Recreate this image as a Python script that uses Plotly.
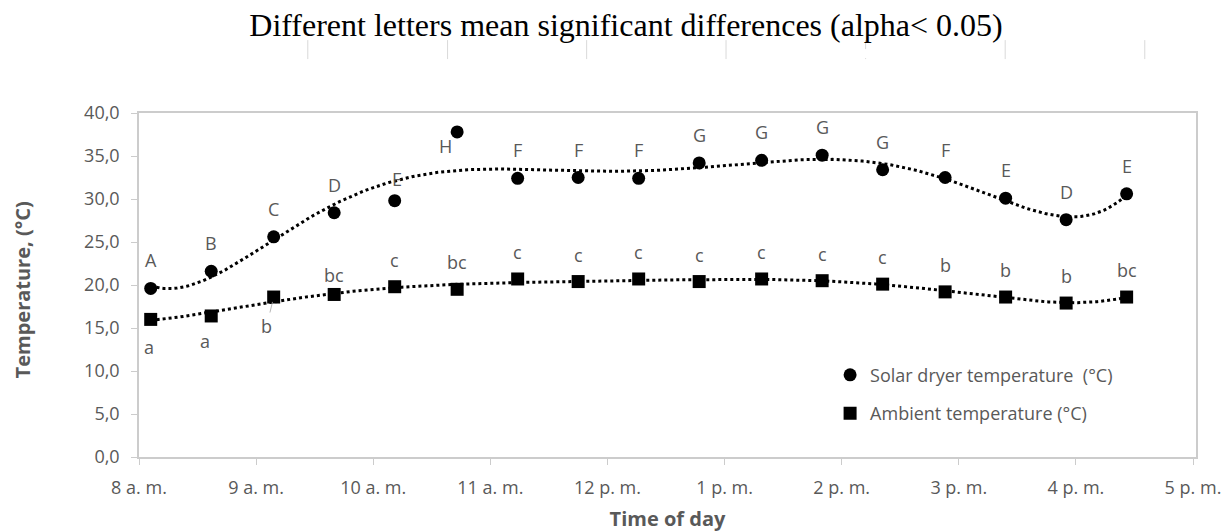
import numpy as np
import plotly.graph_objects as go

# ---------------- data ----------------
times = ["08:06", "08:37", "09:09", "09:40", "10:11", "10:43", "11:14", "11:45", "12:16",
         "12:47", "13:19", "13:50", "14:21", "14:53", "15:24", "15:55", "16:26"]
solar_temp = [19.6, 21.6, 25.6, 28.4, 29.8, 37.8, 32.4, 32.5, 32.4,
              34.2, 34.5, 35.1, 33.4, 32.5, 30.1, 27.6, 30.6]
ambient_temp = [16.0, 16.4, 18.6, 18.9, 19.8, 19.5, 20.7, 20.4, 20.7,
                20.4, 20.7, 20.5, 20.1, 19.2, 18.6, 17.9, 18.6]
solar_letters = ["A", "B", "C", "D", "E", "H", "F", "F", "F", "G", "G", "G", "G", "F", "E", "D", "E"]
ambient_letters = ["a", "a", "b", "bc", "c", "bc", "c", "c", "c", "c", "c", "c", "c", "b", "b", "b", "bc"]
x_tick_hours = [8, 9, 10, 11, 12, 13, 14, 15, 16, 17]
x_tick_labels = ["8 a. m.", "9 a. m.", "10 a. m.", "11 a. m.", "12 p. m.",
                 "1 p. m.", "2 p. m.", "3 p. m.", "4 p. m.", "5 p. m."]
y_tick_values = [0, 5, 10, 15, 20, 25, 30, 35, 40]
y_tick_labels = ["0,0", "5,0", "10,0", "15,0", "20,0", "25,0", "30,0", "35,0", "40,0"]

title_text = "Different letters mean significant differences (alpha< 0.05)"
x_title = "Time of day"
y_title = "Temperature, (°C)"
solar_name = "Solar dryer temperature \u00a0(°C)"
ambient_name = "Ambient temperature (°C)"

# label offsets (pixels) - styling
solar_shift = [(0, 28)] * 17
solar_shift[4] = (2, 22)
solar_shift[5] = (-12, -14)
ambient_shift = [(0, 27)] * 17
ambient_shift[0] = (-2, -28)
ambient_shift[1] = (-6, -25)
ambient_shift[2] = (-7, -29)
ambient_shift[3] = (0, 19)

# ---------------- helpers ----------------
hours = np.array([int(t[:2]) + int(t[3:]) / 60 for t in times])

def trend(vals, deg=6):
    p = np.polynomial.Polynomial.fit(hours, np.array(vals), deg)
    xs = np.linspace(hours.min(), hours.max(), 300)
    return xs, p(xs)

GRAY = "#595959"
AXC = "#cccccc"
FONT = "Open Sans"

fig = go.Figure()

for vals in (solar_temp, ambient_temp):
    tx, ty = trend(vals)
    fig.add_trace(go.Scatter(x=tx, y=ty, mode="lines", showlegend=False, hoverinfo="skip",
                             line=dict(color="black", width=3, dash="dot")))

fig.add_trace(go.Scatter(x=hours, y=solar_temp, mode="markers", name=solar_name,
                         legendgroup="s",
                         marker=dict(symbol="circle", size=13, color="black")))
fig.add_trace(go.Scatter(x=hours, y=ambient_temp, mode="markers", name=ambient_name,
                         legendgroup="a",
                         marker=dict(symbol="square", size=13, color="black")))

ann = []
LETTER_FONT = dict(family=FONT, size=18, color=GRAY)
for xv, yv, t, (dx, dy) in zip(hours, solar_temp, solar_letters, solar_shift):
    ann.append(dict(x=xv, y=yv, text=t, showarrow=False, xshift=dx, yshift=dy,
                    font=LETTER_FONT))
for i, (xv, yv, t, (dx, dy)) in enumerate(zip(hours, ambient_temp, ambient_letters, ambient_shift)):
    if i == 2:
        ann.append(dict(x=xv, y=yv, text=t, showarrow=True, ax=dx, ay=-dy,
                        arrowhead=0, arrowwidth=0.8, arrowcolor="#a6a6a6", standoff=5,
                        font=LETTER_FONT))
    else:
        ann.append(dict(x=xv, y=yv, text=t, showarrow=False, xshift=dx, yshift=dy,
                        font=LETTER_FONT))

# plot-area geometry (pixels)
L, R, T, B = 139.3, 1195.7, 113.0, 457.5
W, H = 1229, 532

def px(x):
    return (x - L) / (R - L)

def py(y):
    return (B - y) / (B - T)

# y-axis title
ann.append(dict(xref="paper", yref="paper", x=px(23), y=py(290), text="<b>%s</b>" % y_title,
                textangle=-90, showarrow=False, xanchor="center", yanchor="middle",
                font=dict(family=FONT, size=20, color=GRAY)))

shapes = []
for xpos in [308, 447.7, 586.7, 726, 865.5, 1005, 1144.5]:
    shapes.append(dict(type="line", xref="paper", yref="paper",
                       x0=px(xpos), x1=px(xpos), y0=py(40), y1=py(59),
                       line=dict(color="#d9d9d9", width=1,
                                 dash="dash" if abs(xpos - 865.5) < 1 else "solid")))

fig.update_layout(
    width=W, height=H,
    margin=dict(l=L, r=W - R, t=T, b=H - B, pad=0, autoexpand=False),
    paper_bgcolor="white", plot_bgcolor="white",
    font=dict(family=FONT, color=GRAY, size=18),
    title=dict(text=title_text, x=626 / W, xanchor="center", y=1 - 25 / H, yanchor="middle",
               xref="container", yref="container",
               font=dict(family="Liberation Serif", size=32, color="black")),
    annotations=ann,
    shapes=shapes,
    showlegend=True,
    legend=dict(x=px(830), y=py(357), xanchor="left", yanchor="top",
                bgcolor="rgba(0,0,0,0)", font=dict(family=FONT, size=18, color=GRAY),
                traceorder="grouped", tracegroupgap=12),
)

fig.update_xaxes(range=[8, 17 + 3 / 117], tickvals=x_tick_hours, ticktext=x_tick_labels,
                 automargin=False,
                 showgrid=False, zeroline=False, showline=True, mirror=True,
                 linecolor=AXC, linewidth=1.5, ticks="outside", ticklen=6, tickcolor=AXC,
                 tickfont=dict(family=FONT, size=18, color=GRAY), ticklabelstandoff=8,
                 title=dict(text="<b>%s</b>" % x_title, standoff=18,
                            font=dict(family=FONT, size=20, color=GRAY)))
fig.update_yaxes(range=[0, 40], tickvals=y_tick_values, ticktext=y_tick_labels,
                 automargin=False,
                 showgrid=False, zeroline=False, showline=True, mirror=True,
                 linecolor=AXC, linewidth=1.5, ticks="outside", ticklen=6, tickcolor=AXC,
                 tickfont=dict(family=FONT, size=18, color=GRAY), ticklabelstandoff=8)

fig.write_html("out.html", config={"displayModeBar": False},
               post_script="document.body.style.margin='0';document.body.style.overflow='hidden';")
